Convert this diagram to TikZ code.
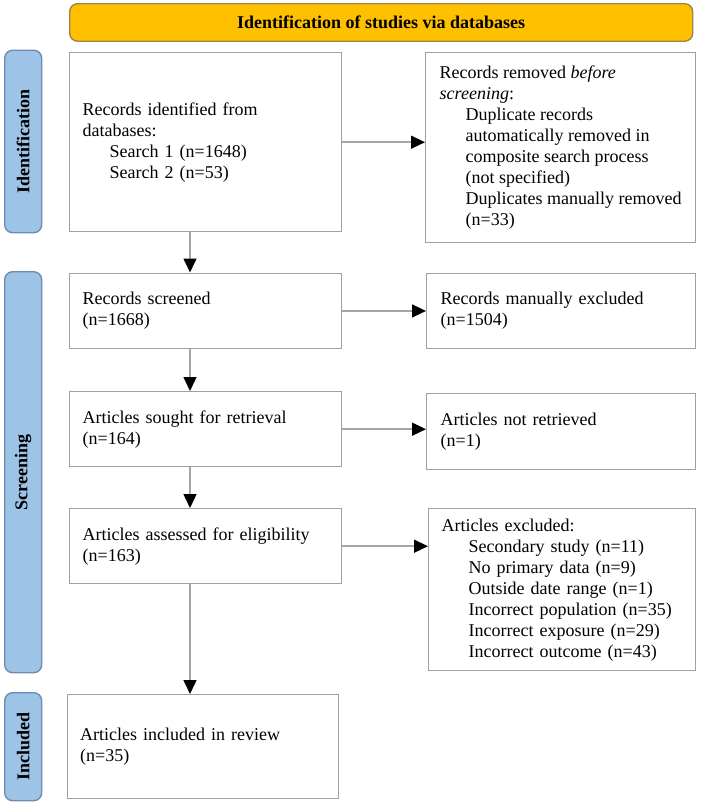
\documentclass[tikz,border=0pt]{standalone}
\usepackage{fontspec}
\setmainfont{Liberation Serif}
\usetikzlibrary{arrows.meta}
\definecolor{gold}{RGB}{255,192,0}
\definecolor{goldline}{RGB}{160,132,70}
\definecolor{barfill}{RGB}{157,195,230}
\definecolor{barline}{RGB}{110,140,180}
\definecolor{boxline}{RGB}{160,160,160}
\definecolor{arrline}{RGB}{165,165,165}
\hyphenpenalty=10000
\exhyphenpenalty=10000
\begin{document}
\begin{tikzpicture}[x=1pt,y=-1pt,
  txt/.style={font=\fontsize{18}{21}\selectfont},
  flowbox/.style={draw=boxline,line width=1.4pt,fill=white,txt,align=left,anchor=north west,inner xsep=13pt,inner ysep=0pt},
  plainbox/.style={draw=boxline,line width=1.4pt,fill=white,txt,anchor=north west,inner sep=0pt},
  sidebar/.style={draw=barline,line width=1.4pt,fill=barfill,rounded corners=8pt,anchor=north west,inner sep=0pt},
  sidelabel/.style={rotate=90,font=\fontsize{18}{21}\selectfont\bfseries},
  flowarrow/.style={draw=arrline,line width=1.5pt,-{Triangle[length=14pt,width=13pt,color=black]}}
]
\useasboundingbox (0,0) rectangle (701,804);

% banner
\node[draw=goldline,line width=1.4pt,fill=gold,rounded corners=8pt,anchor=north west,inner sep=0pt,
  minimum width=623pt,minimum height=37.5pt,font=\fontsize{18}{21}\selectfont\bfseries] (banner) at (69,3) {Identification of studies via databases};

% side bars
\node[sidebar,minimum width=37pt,minimum height=182.5pt] (bar1) at (4,49.5) {};
\node[sidelabel] (lab1) at (bar1.center) {Identification};
\node[sidebar,minimum width=37pt,minimum height=401pt] (bar2) at (4,271) {};
\node[sidelabel] (lab2) at (bar2.center) {Screening};
\node[sidebar,minimum width=37pt,minimum height=108pt] (bar3) at (4,692) {};
\node[sidelabel] (lab3) at (bar3.center) {Included};

% boxes
\node[flowbox,text width=246pt,minimum height=179pt] (b1) at (69,52)
  {Records identified from\\databases:\\\hspace*{27pt}Search 1 (n=1648)\\\hspace*{27pt}Search 2 (n=53)};
\node[plainbox,minimum height=190pt] (b2) at (425,52)
  {\hspace*{14pt}\parbox{248pt}{\raggedright Records removed \textit{before}\\\textit{screening}:\\\hspace*{26pt}Duplicate records\\\hspace*{26pt}automatically removed in\\\hspace*{26pt}composite search process\\\hspace*{26pt}(not specified)\\\hspace*{26pt}Duplicates manually removed\\\hspace*{26pt}(n=33)}\hspace*{8pt}};
\node[flowbox,text width=246pt,minimum height=75.5pt] (b3) at (69,272.5)
  {Records screened\\(n=1668)};
\node[flowbox,inner xsep=14pt,text width=241pt,minimum height=75.5pt] (b4) at (426,272.5)
  {Records manually excluded\\(n=1504)};
\node[flowbox,text width=246pt,minimum height=75pt] (b5) at (69,391)
  {Articles sought for retrieval\\(n=164)};
\node[flowbox,inner xsep=14pt,text width=241pt,minimum height=76pt] (b6) at (426,393)
  {Articles not retrieved\\(n=1)};
\node[flowbox,text width=246pt,minimum height=75pt] (b7) at (69,508)
  {Articles assessed for eligibility\\(n=163)};
\node[flowbox,text width=241pt,minimum height=162pt] (b8) at (428,508)
  {Articles excluded:\\\hspace*{27pt}Secondary study (n=11)\\\hspace*{27pt}No primary data (n=9)\\\hspace*{27pt}Outside date range (n=1)\\\hspace*{27pt}Incorrect population (n=35)\\\hspace*{27pt}Incorrect exposure (n=29)\\\hspace*{27pt}Incorrect outcome (n=43)};
\node[flowbox,text width=245.5pt,minimum height=104pt] (b9) at (66.5,694)
  {Articles included in review\\(n=35)};

% arrows
\coordinate (ax) at (190,0);
\draw[flowarrow] (b1.south -| ax) -- (b3.north -| ax);
\draw[flowarrow] (b3.south -| ax) -- (b5.north -| ax);
\draw[flowarrow] (b5.south -| ax) -- (b7.north -| ax);
\draw[flowarrow] (b7.south -| ax) -- (b9.north -| ax);
\draw[flowarrow] (b1.east) -- (b1.east -| b2.west);
\draw[flowarrow] (b3.east) -- (b3.east -| b4.west);
\draw[flowarrow] (b5.east) -- (b5.east -| b6.west);
\draw[flowarrow] (b7.east) -- (b7.east -| b8.west);
\end{tikzpicture}
\end{document}
